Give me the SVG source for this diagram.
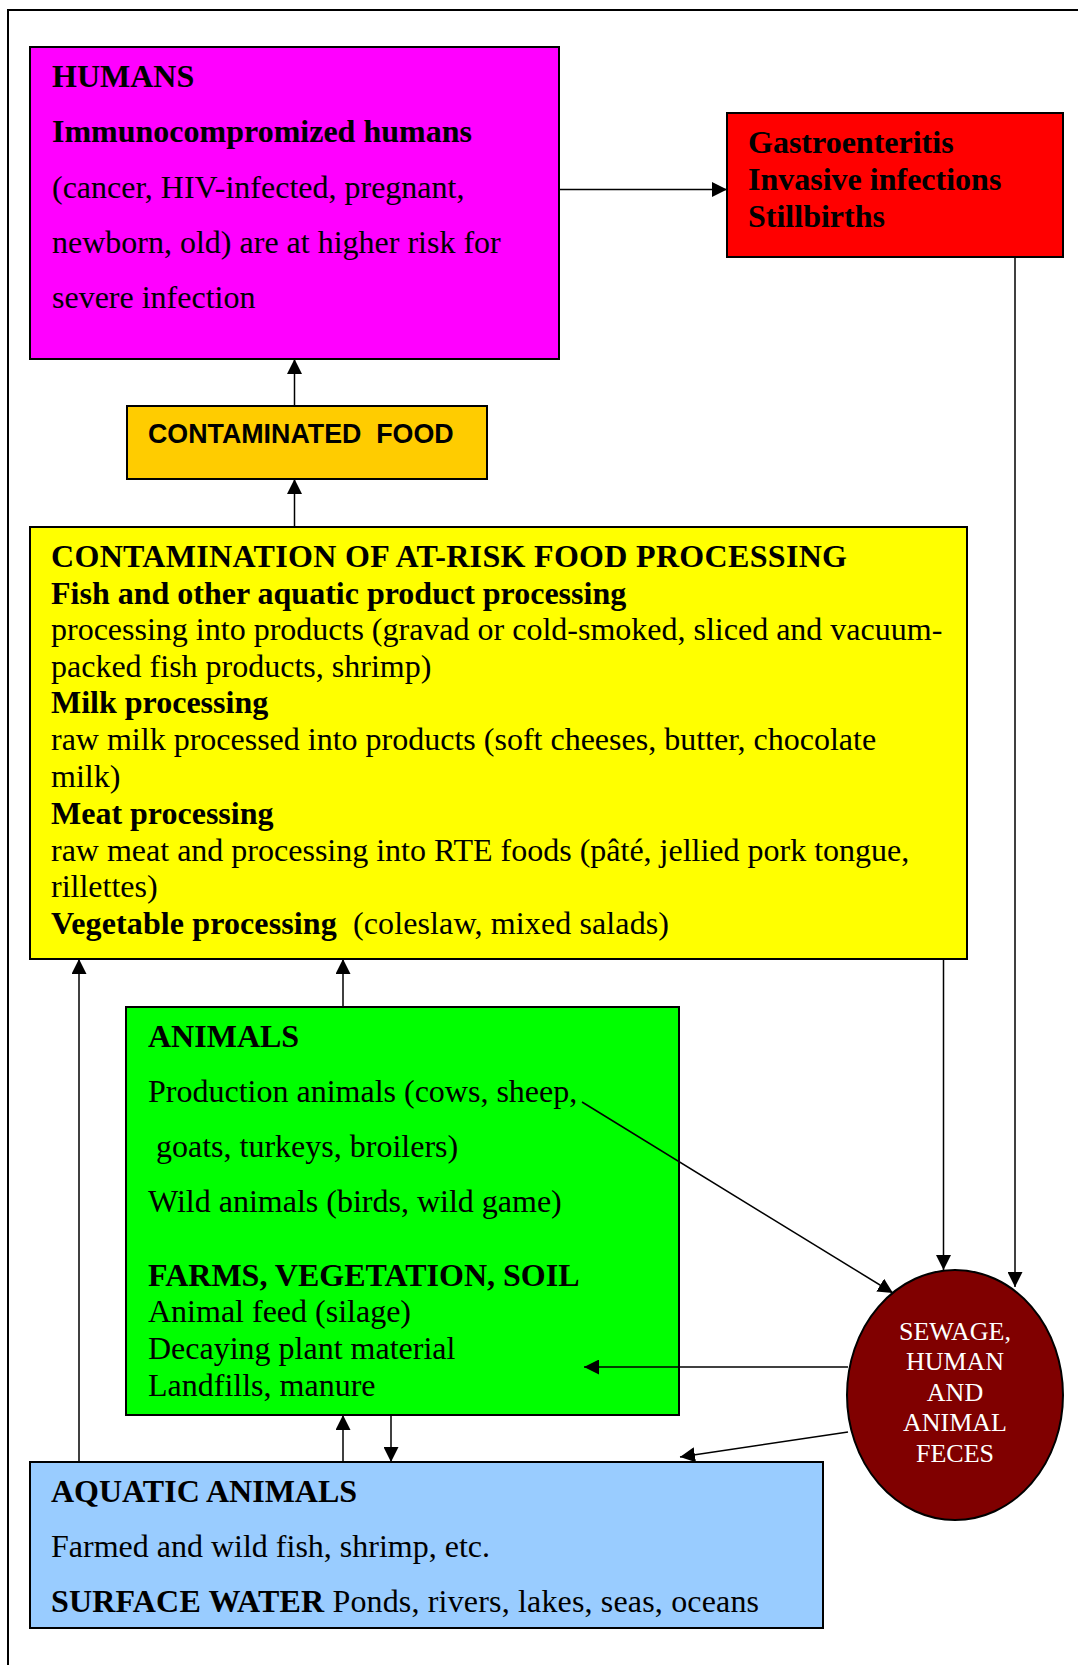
<svg xmlns="http://www.w3.org/2000/svg" width="1078" height="1665" viewBox="0 0 1078 1665">
<style>
.box{stroke:#000;stroke-width:2}
.t{font-family:"Liberation Serif","Times New Roman",serif;font-size:32px;fill:#000}
.b{font-weight:bold}
.conn line{stroke:#000;stroke-width:1.5;fill:none}
.sans{font-family:"Liberation Sans",Arial,sans-serif;font-weight:bold;font-size:26.8px}
.w{font-family:"Liberation Serif","Times New Roman",serif;font-size:26px;fill:#fff;text-anchor:middle}
</style>
<defs>
<marker id="ah" markerUnits="userSpaceOnUse" markerWidth="15" markerHeight="15" refX="15" refY="7.5" orient="auto">
<path d="M0,0 L15,7.5 L0,15 z" fill="#000"/>
</marker>
</defs>
<rect width="1078" height="1665" fill="#fff"/>
<rect x="8" y="10" width="1100" height="1700" fill="none" stroke="#000" stroke-width="2"/>

<g id="humans">
<rect class="box" x="30" y="47" width="529" height="312" fill="#ff00ff"/>
<text class="t b" x="52" y="87">HUMANS</text>
<text class="t b" x="52" y="142">Immunocompromized humans</text>
<text class="t" x="52" y="198">(cancer, HIV-infected, pregnant,</text>
<text class="t" x="52" y="253">newborn, old) are at higher risk for</text>
<text class="t" x="52" y="308">severe infection</text>
</g>

<g id="outcomes">
<rect class="box" x="727" y="113" width="336" height="144" fill="#ff0000"/>
<text class="t b" x="748" y="153">Gastroenteritis</text>
<text class="t b" x="748" y="190">Invasive infections</text>
<text class="t b" x="748" y="227">Stillbirths</text>
</g>

<g id="contaminated-food">
<rect class="box" x="127" y="406" width="360" height="73" fill="#ffcc00"/>
<text class="sans" x="148" y="443" xml:space="preserve">CONTAMINATED  FOOD</text>
</g>

<g id="processing">
<rect class="box" x="30" y="527" width="937" height="432" fill="#ffff00"/>
<text class="t b" x="51" y="567" textLength="796" lengthAdjust="spacing">CONTAMINATION OF AT-RISK FOOD PROCESSING</text>
<text class="t b" x="51" y="604">Fish and other aquatic product processing</text>
<text class="t" x="51" y="640">processing into products (gravad or cold-smoked, sliced and vacuum-</text>
<text class="t" x="51" y="677">packed fish products, shrimp)</text>
<text class="t b" x="51" y="713">Milk processing</text>
<text class="t" x="51" y="750">raw milk processed into products (soft cheeses, butter, chocolate</text>
<text class="t" x="51" y="787">milk)</text>
<text class="t b" x="51" y="824">Meat processing</text>
<text class="t" x="51" y="861">raw meat and processing into RTE foods (pâté, jellied pork tongue,</text>
<text class="t" x="51" y="897">rillettes)</text>
<text class="t" x="51" y="934" xml:space="preserve" textLength="618" lengthAdjust="spacing"><tspan class="b">Vegetable processing</tspan>  (coleslaw, mixed salads)</text>
</g>

<g id="animals">
<rect class="box" x="126" y="1007" width="553" height="408" fill="#00ff00"/>
<text class="t b" x="148" y="1047">ANIMALS</text>
<text class="t" x="148" y="1102">Production animals (cows, sheep,</text>
<text class="t" x="156" y="1157">goats, turkeys, broilers)</text>
<text class="t" x="148" y="1212">Wild animals (birds, wild game)</text>
<text class="t b" x="148" y="1286">FARMS, VEGETATION, SOIL</text>
<text class="t" x="148" y="1322">Animal feed (silage)</text>
<text class="t" x="148" y="1359">Decaying plant material</text>
<text class="t" x="148" y="1396">Landfills, manure</text>
</g>

<g id="aquatic">
<rect class="box" x="30" y="1462" width="793" height="166" fill="#99ccff"/>
<text class="t b" x="51" y="1502">AQUATIC ANIMALS</text>
<text class="t" x="51" y="1557">Farmed and wild fish, shrimp, etc.</text>
<text class="t" x="51" y="1612" textLength="708" lengthAdjust="spacing"><tspan class="b">SURFACE WATER</tspan> Ponds, rivers, lakes, seas, oceans</text>
</g>

<g id="sewage">
<ellipse class="box" cx="955" cy="1395" rx="108" ry="125" fill="#800000"/>
<text class="w" x="955" y="1340">SEWAGE,</text>
<text class="w" x="955" y="1370">HUMAN</text>
<text class="w" x="955" y="1401">AND</text>
<text class="w" x="955" y="1431">ANIMAL</text>
<text class="w" x="955" y="1462">FECES</text>
</g>

<g class="conn" id="connectors">
<line x1="559" y1="189.5" x2="727" y2="189.5" marker-end="url(#ah)"/>
<line x1="294.5" y1="406" x2="294.5" y2="359" marker-end="url(#ah)"/>
<line x1="294.5" y1="527" x2="294.5" y2="479" marker-end="url(#ah)"/>
<line x1="1015" y1="257" x2="1015" y2="1287" marker-end="url(#ah)"/>
<line x1="943.5" y1="959" x2="943.5" y2="1270" marker-end="url(#ah)"/>
<line x1="582" y1="1102" x2="893" y2="1293" marker-end="url(#ah)"/>
<line x1="848" y1="1367" x2="584" y2="1367" marker-end="url(#ah)"/>
<line x1="848" y1="1432" x2="680" y2="1457" marker-end="url(#ah)"/>
<line x1="79" y1="1462" x2="79" y2="959" marker-end="url(#ah)"/>
<line x1="343" y1="1007" x2="343" y2="959" marker-end="url(#ah)"/>
<line x1="343" y1="1462" x2="343" y2="1415" marker-end="url(#ah)"/>
<line x1="391" y1="1415" x2="391" y2="1462" marker-end="url(#ah)"/>
</g>
</svg>
